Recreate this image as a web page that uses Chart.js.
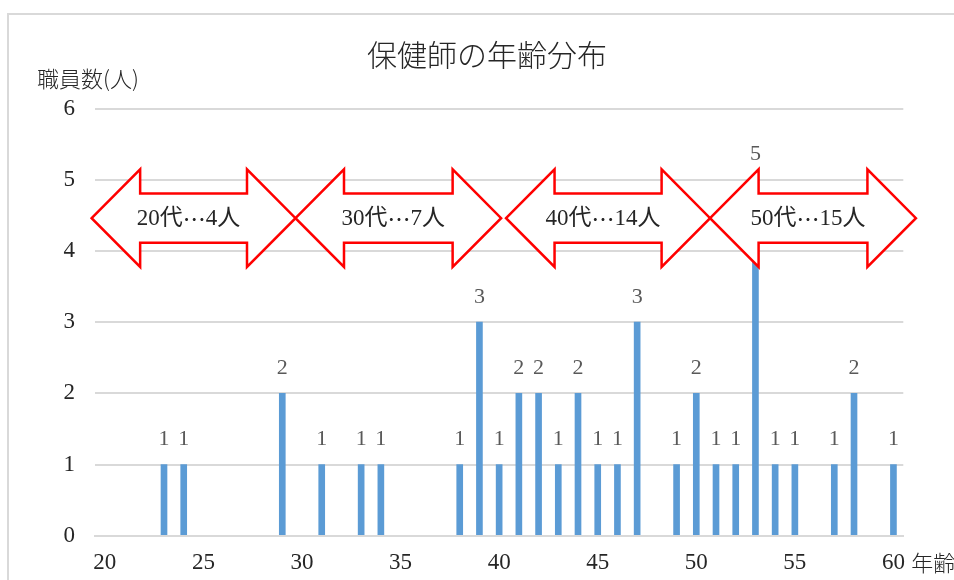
<!DOCTYPE html>
<html lang="ja">
<head>
<meta charset="utf-8">
<title>保健師の年齢分布</title>
<script src="https://cdn.jsdelivr.net/npm/chart.js@4.4.1/dist/chart.umd.min.js"></script>
<style>
  html, body { margin: 0; padding: 0; background: #ffffff; overflow: hidden; }
  #wrap { position: relative; width: 954px; height: 580px; }
  #frame {
    position: absolute; left: 7px; top: 13px; width: 1000px; height: 1000px;
    border: 2px solid #d9d9d9; box-sizing: border-box;
  }
  #chart { position: absolute; left: 0; top: 0; }
</style>
</head>
<body>
<div id="wrap">
  <div id="frame"></div>
  <canvas id="chart" width="954" height="580"></canvas>
</div>
<script>
// Age categories (x axis)
const ages = [
  '20','21','22','23','24','25','26','27','28','29',
  '30','31','32','33','34','35','36','37','38','39',
  '40','41','42','43','44','45','46','47','48','49',
  '50','51','52','53','54','55','56','57','58','59',
  '60'
];
// Number of public health nurses at each age
const staffCounts = [
  0, 0, 0, 1, 1, 0, 0, 0, 0, 2,
  0, 1, 0, 1, 1, 0, 0, 0, 1, 3,
  1, 2, 2, 1, 2, 1, 1, 3, 0, 1,
  2, 1, 1, 5, 1, 1, 0, 1, 2, 0,
  1
];
// Ages that carry a tick label
const xTickLabels = ['20', '25', '30', '35', '40', '45', '50', '55', '60'];
const yTickValues = [0, 1, 2, 3, 4, 5, 6];

// Age-band callouts: text pieces and span along the age axis
const bandDecade = ['20代', '30代', '40代', '50代'];
const bandTotal  = ['4人', '7人', '14人', '15人'];
const bandStart = [19.33, 29.67, 40.35, 50.70];
const bandEnd   = [29.67, 40.10, 50.70, 61.14];
const bandCenterY = 4.46;   // arrow centre line, in staff units
const headHalf = 0.685;     // arrowhead half height, in staff units
const bodyHalf = 0.345;     // shaft half height, in staff units
const headLen = 2.46;       // arrowhead length, in years

const SERIF = '"Liberation Serif", "Noto Sans CJK JP", serif';
const CJK = '"Noto Sans CJK JP", sans-serif';

// draw "20代…4人" with the ellipsis taken from the CJK font (centred dots)
function drawBandText(ctx, cx, cy, decade, total) {
  const parts = [
    { t: decade, f: '23px ' + SERIF },
    { t: '…', f: '23px ' + CJK },
    { t: total, f: '23px ' + SERIF }
  ];
  let w = 0;
  parts.forEach(p => { ctx.font = p.f; p.w = ctx.measureText(p.t).width; w += p.w; });
  let x = cx - w / 2;
  ctx.textAlign = 'left';
  ctx.textBaseline = 'middle';
  parts.forEach(p => { ctx.font = p.f; ctx.fillText(p.t, x, cy); x += p.w; });
}

const decorPlugin = {
  id: 'decor',
  afterDatasetsDraw(chart) {
    const ctx = chart.ctx;
    const xs = chart.scales.x, ys = chart.scales.y;
    const ax = (age) => xs.getPixelForValue(age - Number(ages[0]));

    // double-headed arrows
    for (let i = 0; i < bandDecade.length; i++) {
      const x0 = ax(bandStart[i]), x1 = ax(bandEnd[i]);
      const hl = ax(bandStart[i] + headLen) - x0;
      const yc = ys.getPixelForValue(bandCenterY);
      const yHt = ys.getPixelForValue(bandCenterY + headHalf);
      const yHb = ys.getPixelForValue(bandCenterY - headHalf);
      const yBt = ys.getPixelForValue(bandCenterY + bodyHalf);
      const yBb = ys.getPixelForValue(bandCenterY - bodyHalf);
      ctx.save();
      ctx.beginPath();
      ctx.moveTo(x0, yc);
      ctx.lineTo(x0 + hl, yHt);
      ctx.lineTo(x0 + hl, yBt);
      ctx.lineTo(x1 - hl, yBt);
      ctx.lineTo(x1 - hl, yHt);
      ctx.lineTo(x1, yc);
      ctx.lineTo(x1 - hl, yHb);
      ctx.lineTo(x1 - hl, yBb);
      ctx.lineTo(x0 + hl, yBb);
      ctx.lineTo(x0 + hl, yHb);
      ctx.closePath();
      ctx.fillStyle = '#ffffff';
      ctx.fill();
      ctx.lineWidth = 2.5;
      ctx.lineJoin = 'miter';
      ctx.strokeStyle = '#ff0000';
      ctx.stroke();
      ctx.fillStyle = '#262626';
      drawBandText(ctx, (x0 + x1) / 2 - 5, yc + 1, bandDecade[i], bandTotal[i]);
      ctx.restore();
    }

    // value labels above bars
    const meta = chart.getDatasetMeta(0);
    ctx.save();
    ctx.font = '22px ' + SERIF;
    ctx.fillStyle = '#595959';
    ctx.textAlign = 'center';
    ctx.textBaseline = 'middle';
    meta.data.forEach((bar, idx) => {
      const v = staffCounts[idx];
      if (!v) return;
      ctx.fillText(String(v), bar.x, bar.y - 25);
    });
    ctx.restore();
  },
  afterDraw(chart) {
    const ctx = chart.ctx;
    const area = chart.chartArea;
    ctx.save();
    // chart title
    ctx.fillStyle = '#262626';
    ctx.font = '300 30px ' + CJK;
    ctx.textAlign = 'center';
    ctx.textBaseline = 'middle';
    ctx.fillText('保健師の年齢分布', 487, 55);
    // y axis title, set horizontally above the axis
    ctx.font = '300 22px ' + CJK;
    ctx.fillStyle = '#262626';
    ctx.textAlign = 'left';
    ctx.fillText('職員数(人)', 37, 79);
    // x axis title, to the right of the last tick
    ctx.fillText('年齢', area.right + 8, area.bottom + 27);
    ctx.restore();
  }
};

new Chart(document.getElementById('chart'), {
  type: 'bar',
  data: {
    labels: ages,
    datasets: [{
      // ages with nobody get no bar at all
      data: staffCounts.map(v => (v === 0 ? null : v)),
      backgroundColor: '#5b9bd5',
      barThickness: 6
    }]
  },
  options: {
    responsive: false,
    animation: false,
    layout: { padding: { top: 108.5, right: 50.7, bottom: 0, left: 0 } },
    plugins: {
      legend: { display: false },
      tooltip: { enabled: false },
      title: { display: false }
    },
    scales: {
      x: {
        type: 'category',
        offset: true,
        grid: { display: false, drawTicks: false },
        border: { display: true, color: '#d9d9d9', width: 2 },
        afterFit(scale) { scale.height = 44.3; },
        ticks: {
          autoSkip: false,
          maxRotation: 0,
          minRotation: 0,
          padding: 13,
          color: '#262626',
          font: { family: SERIF, size: 23 },
          callback(value) {
            const lab = ages[value];
            return xTickLabels.includes(lab) ? lab : '';
          }
        }
      },
      y: {
        min: yTickValues[0],
        max: yTickValues[yTickValues.length - 1],
        afterFit(scale) { scale.width = 95; },
        grid: { color: '#d9d9d9', lineWidth: 2, drawTicks: false },
        border: { display: false },
        ticks: {
          stepSize: 1,
          padding: 20,
          color: '#262626',
          font: { family: SERIF, size: 23 }
        }
      }
    }
  },
  plugins: [decorPlugin]
});
</script>
</body>
</html>
